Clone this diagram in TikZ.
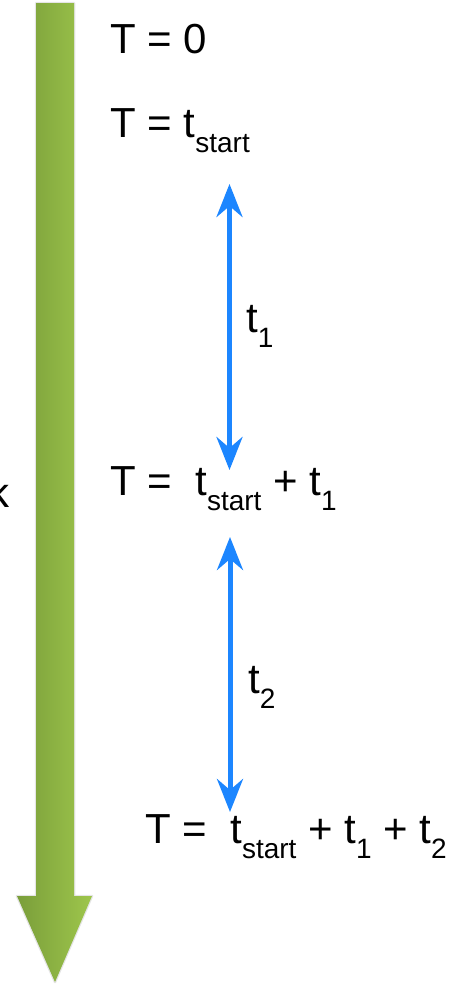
\documentclass[tikz,border=0pt]{standalone}
\usepackage{fontspec}
\setmainfont{Liberation Sans}
\usetikzlibrary{arrows.meta}
\definecolor{spanblue}{RGB}{28,134,255}
\definecolor{gdark}{RGB}{122,158,58}
\definecolor{glight}{RGB}{158,198,76}
\newcommand{\subt}[1]{\raisebox{-15.5bp}{\fontsize{28bp}{31bp}\selectfont #1}}
\tikzset{
  lbl/.style={anchor=base west, inner sep=0pt, font=\fontsize{42bp}{50bp}\selectfont},
  span/.style={draw=spanblue, line width=5bp,
    {Stealth[length=33bp,width=26bp,inset=11bp]}-{Stealth[length=33bp,width=26bp,inset=11bp]}}
}
\begin{document}
\begin{tikzpicture}[x=1bp,y=-1bp]
\useasboundingbox (0,0) rectangle (454,986);
% green time arrow
\draw[black!10, line width=2.5bp, line join=round]
  (36,3) -- (74,3) -- (74,896) -- (92,896) -- (55,982) -- (17,896) -- (36,896) -- cycle;
\shade[left color=gdark, right color=glight]
  (36,3) -- (74,3) -- (74,896) -- (92,896) -- (55,982) -- (17,896) -- (36,896) -- cycle;
% labels
\node[lbl] (t0) at (110,53) {T = 0};
\node[lbl] (ts) at (110,137) {T = t\subt{start}};
\node[lbl] (d1) at (246,332) {t\subt{1}};
\node[lbl] (ts1) at (110,495) {T =\ \ t\subt{start} + t\subt{1}};
\node[lbl] (d2) at (248,693) {t\subt{2}};
\node[lbl] (ts12) at (145,843) {T =\ \ t\subt{start} + t\subt{1} + t\subt{2}};
\node[lbl, anchor=base east] (clk) at (10,507) {k};
% spans
\coordinate (a1s) at (229.5,184);
\coordinate (a1e) at (229.5,470);
\coordinate (a2s) at (230,537);
\coordinate (a2e) at (230,812);
\draw[span] (a1s) -- (a1e);
\draw[span] (a2s) -- (a2e);
\end{tikzpicture}
\end{document}
